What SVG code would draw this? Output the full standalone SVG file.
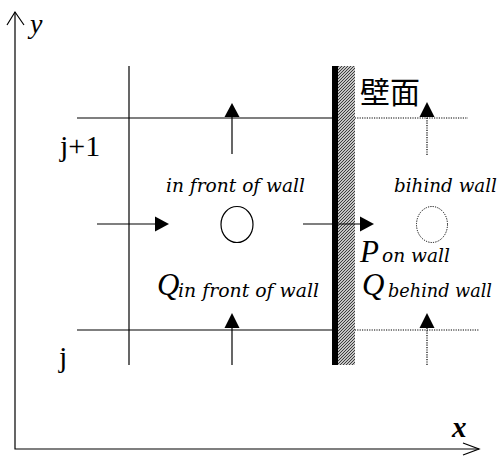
<svg xmlns="http://www.w3.org/2000/svg" width="500" height="457" viewBox="0 0 500 457">
<style>
.ln{stroke:#000;stroke-width:1.2;fill:none}
.dt{stroke:#000;stroke-width:1.2;fill:none;stroke-dasharray:1.2 1.2}
.lbl{font-family:"DejaVu Serif","Liberation Serif",serif;font-style:italic;font-size:19px;fill:#000}
.big{font-family:"Liberation Serif",serif;font-style:italic;font-size:31px;fill:#000}
.num{font-family:"Liberation Serif","Times New Roman",serif;font-size:30px;fill:#000}
.head{fill:#000}
</style>
<defs>
<pattern id="hatch" width="3" height="3" patternUnits="userSpaceOnUse">
<rect width="3" height="3" fill="#fff"/>
<path d="M0,3 L3,0 M-1,1 L1,-1 M2,4 L4,2" stroke="#333" stroke-width="1.1"/>
</pattern>
</defs>
<g id="axes">
<path class="ln" d="M15,12 V449 H479"/>
<path class="ln" d="M7,25 L15,12 L24,25"/>
<path class="ln" d="M463,443 L479,449 L463,455"/>
<text x="30" y="33" class="big" style="font-size:28px">y</text>
<text x="452" y="437" class="big" style="font-weight:bold;font-size:29px">x</text>
</g>
<g id="grid">
<line class="ln" x1="129" y1="66" x2="129" y2="365"/>
<line class="ln" x1="77" y1="118" x2="333" y2="118"/>
<line class="ln" x1="77" y1="330" x2="333" y2="330"/>
<line class="dt" x1="338" y1="118" x2="468" y2="118"/>
<line class="dt" x1="338" y1="330" x2="479" y2="330"/>
<text x="60" y="156" class="num">j+1</text>
<text x="59" y="367" class="num">j</text>
</g>
<g id="wall">
<rect x="338" y="66" width="17" height="299" fill="url(#hatch)"/>
<rect x="332" y="66" width="6" height="299" fill="#000"/>
<text x="360" y="103" font-family="'Noto Sans CJK JP','Noto Sans CJK SC',sans-serif" font-size="30" fill="#000">壁面</text>
</g>
<g id="connectors">
<line class="ln" x1="232" y1="154" x2="232" y2="116"/>
<polygon class="head" points="232,103 224.5,117 239.5,117"/>
<line class="ln" x1="232" y1="365" x2="232" y2="327"/>
<polygon class="head" points="232,313 224.5,328 239.5,328"/>
<line class="dt" x1="427" y1="155" x2="427" y2="116"/>
<polygon class="head" points="427,102 419.5,117 434.5,117"/>
<line class="dt" x1="427" y1="365" x2="427" y2="327"/>
<polygon class="head" points="427,313 419.5,328 434.5,328"/>
<line class="ln" x1="97" y1="224" x2="157" y2="224"/>
<polygon class="head" points="169,224 155,216.5 155,231.5"/>
<line class="ln" x1="303" y1="224" x2="362" y2="224"/>
<polygon class="head" points="374,224 360,216.5 360,231.5"/>
</g>
<g id="node-front">
<ellipse cx="237" cy="224.5" rx="16" ry="18" class="ln"/>
<text x="166" y="192" class="lbl" textLength="139" lengthAdjust="spacingAndGlyphs">in front of wall</text>
<text x="157" y="295" class="big">Q</text>
<text x="178" y="297" class="lbl" textLength="141" lengthAdjust="spacingAndGlyphs">in front of wall</text>
</g>
<g id="node-behind">
<ellipse cx="432" cy="224.5" rx="15.5" ry="18" class="dt" style="stroke-width:1"/>
<text x="394" y="192" class="lbl" textLength="103" lengthAdjust="spacingAndGlyphs">bihind wall</text>
<text x="362" y="295" class="big">Q</text>
<text x="388" y="297" class="lbl" textLength="104" lengthAdjust="spacingAndGlyphs">behind wall</text>
</g>
<g id="node-onwall">
<text x="360" y="262" class="big">P</text>
<text x="382" y="262" class="lbl" textLength="68" lengthAdjust="spacingAndGlyphs">on wall</text>
</g>
</svg>
